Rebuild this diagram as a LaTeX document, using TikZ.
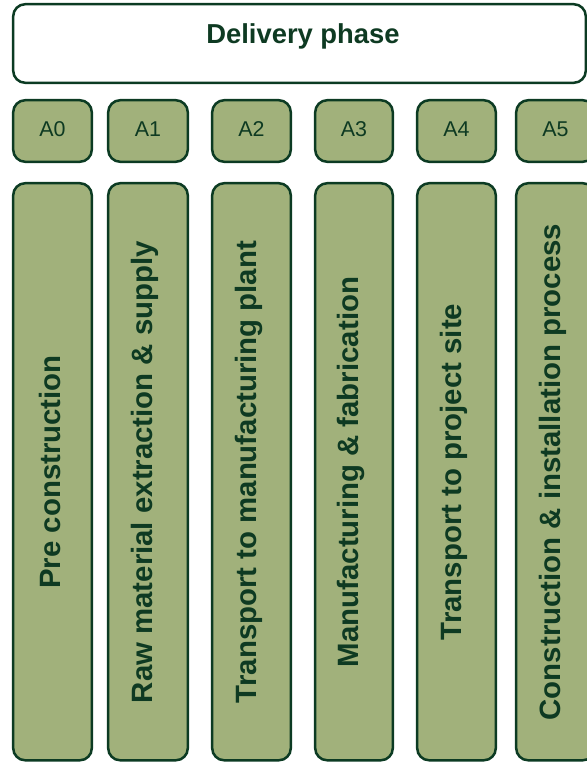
\documentclass[tikz,border=0pt]{standalone}
\usepackage{fontspec}
\setmainfont{Liberation Sans}
\definecolor{boxfill}{HTML}{A1B17B}
\definecolor{boxline}{HTML}{0C3B23}
\definecolor{txt}{HTML}{0E3A22}
\begin{document}
\begin{tikzpicture}[x=1bp,y=-1bp,
  frame/.style={draw=boxline,line width=2.5bp,rounded corners=12bp},
  header/.style={frame,fill=white},
  tag/.style={frame,fill=boxfill},
  column/.style={frame,fill=boxfill},
  hdrtext/.style={font=\bfseries\fontsize{27.5}{30}\selectfont,text=txt},
  tagtext/.style={font=\fontsize{21.5}{24}\selectfont,text=txt},
  coltext/.style={rotate=90,font=\bfseries\fontsize{29.5}{32}\selectfont,text=txt,anchor=center}]
\useasboundingbox (0,0) rectangle (587,763);
\clip (0,0) rectangle (587,763);
% header
\draw[header] (13.2,4.2) rectangle (585.8,82.8);
\node[hdrtext] (hdr) at (303,36.5) {Delivery phase};
% columns
\foreach \i/\l/\r/\lab/\txt in {
  0/13.2/91.8/A0/Pre construction,
  1/108.2/187.8/A1/Raw material extraction \& supply,
  2/212.2/290.8/A2/Transport to manufacturing plant,
  3/315.2/392.8/A3/Manufacturing \& fabrication,
  4/417.2/495.8/A4/Transport to project site,
  5/516.2/594.8/A5/Construction \& installation process}{
  \draw[tag] (\l,100.2) rectangle (\r,161.8);
  \node[tagtext] (t\i) at ({(\l+\r)/2},129) {\lab};
  \draw[column] (\l,183.2) rectangle (\r,760.3);
  \node[coltext] (c\i) at ({(\l+\r)/2-3},472) {\txt};
}
\end{tikzpicture}
\end{document}
